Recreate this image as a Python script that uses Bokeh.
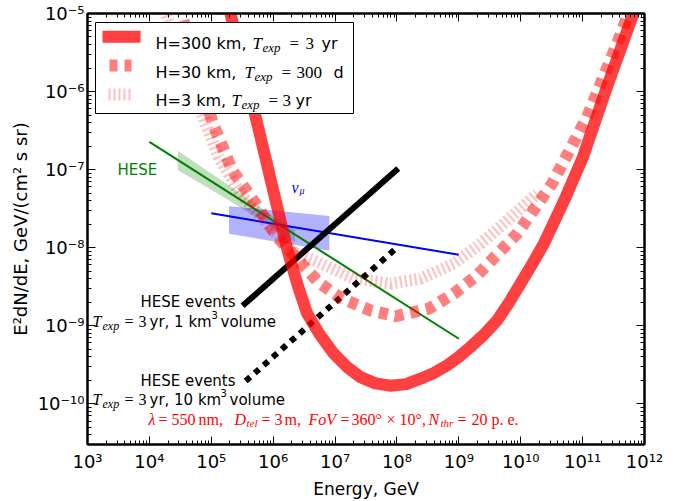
import math
from bokeh.plotting import figure
from bokeh.models import FixedTicker, CustomJSTickFormatter, LogAxis, Label
from bokeh.embed import file_html
from bokeh.resources import INLINE

# ---------------- data ----------------
x_tick_exps = [3, 4, 5, 6, 7, 8, 9, 10, 11, 12]
y_tick_exps = [-10, -9, -8, -7, -6, -5]

# H=300 km, T=3 yr  (thick red)
h300_E = [1.91e5, 2.04e5, 5.89e5, 1.70e6, 2.51e6, 3.54e6, 5.62e6, 9.42e6, 1.57e7, 2.57e7,
          4.47e7, 7.94e7, 1.41e8, 2.40e8, 3.98e8, 6.47e8, 1.00e9, 1.54e9, 2.51e9, 4.16e9,
          6.31e9, 9.89e9, 1.51e10, 2.36e10, 5.01e10, 1.00e11, 2.33e11, 6.62e11, 7.41e11]
h300_F = [1.26e-5, 1.00e-5, 3.16e-7, 9.33e-9, 3.24e-9, 1.43e-9, 7.76e-10, 4.42e-10, 2.94e-10,
          2.19e-10, 1.82e-10, 1.70e-10, 1.78e-10, 2.09e-10, 2.48e-10, 3.10e-10, 3.98e-10,
          5.32e-10, 7.59e-10, 1.17e-9, 1.91e-9, 3.45e-9, 6.03e-9, 1.12e-8, 3.98e-8, 1.41e-7,
          1.00e-6, 1.00e-5, 1.29e-5]
# H=30 km, T=300 d  (dashed)
h30_E = [3.02e4, 3.30e4, 1.04e5, 2.18e5, 5.18e5, 1.16e6, 2.44e6, 5.46e6, 1.30e7, 3.73e7, 9.46e7,
         3.27e8, 8.28e8, 1.98e9, 8.75e9, 3.21e10, 1.18e11, 3.61e11, 6.31e11]
h30_F = [1.29e-5, 1.00e-5, 4.07e-7, 9.80e-8, 3.66e-8, 1.37e-8, 7.23e-9, 3.55e-9, 2.22e-9, 1.57e-9,
         1.32e-9, 1.65e-9, 2.57e-9, 4.42e-9, 1.51e-8, 6.62e-8, 4.72e-7, 4.12e-6, 1.32e-5]
# H=3 km, T=3 yr  (hatched)
h3_E = [1.70e4, 1.82e4, 7.57e4, 1.31e5, 2.96e5, 8.00e5, 2.13e6, 5.40e6, 1.98e7, 7.85e7, 2.40e8,
        8.28e8, 2.23e9, 5.31e9, 1.84e10]
h3_F = [1.26e-5, 1.00e-5, 4.51e-7, 1.45e-7, 4.92e-8, 2.03e-8, 8.79e-9, 6.49e-9, 4.04e-9, 3.45e-9,
        4.01e-9, 6.24e-9, 1.12e-8, 2.03e-8, 4.92e-8]
# HESE fit
hese_E = [1e4, 1e9]
hese_F = [2.26e-7, 6.8e-10]
hese_band_E = [2.88e4, 1.0e5, 3.16e5, 1.0e6, 2.24e6]
hese_band_hi = [1.74e-7, 8.91e-8, 4.79e-8, 2.51e-8, 1.70e-8]
hese_band_lo = [9.77e-8, 5.50e-8, 3.16e-8, 1.78e-8, 1.17e-8]
# nu_mu fit
numu_E = [1e5, 1e9]
numu_F = [2.75e-8, 8.1e-9]
numu_box_E = [1.94e5, 8.1e6]
numu_box_hi = [3.4e-8, 2.54e-8]
numu_box_lo = [1.51e-8, 9.1e-9]
# HESE event-rate lines
km3_1_E = [3.2e5, 1.05e8]
km3_1_F = [1.8e-9, 1.03e-7]
km3_10_E = [3.6e5, 1.0e8]
km3_10_F = [1.95e-10, 1.0e-8]

# ---------------- figure ----------------
W, H = 688, 501
BL, BR, BT, BB = 87, 44, 13, 57
XR = (1e3, 1e12)
YR = (3e-11, 1e-5)

p = figure(width=W, height=H, x_axis_type="log", y_axis_type="log",
           x_range=XR, y_range=YR, output_backend="svg", toolbar_location=None,
           min_border_left=BL, min_border_right=BR, min_border_top=BT, min_border_bottom=BB)
p.grid.visible = False
p.outline_line_color = "black"
p.outline_line_width = 2
p.background_fill_color = "white"
p.border_fill_color = "white"

# page-pixel -> data helpers (for text placement only)
FL, FR, FT, FB = BL, W - BR, BT, H - BB
lx0, lx1 = math.log10(XR[0]), math.log10(XR[1])
ly0, ly1 = math.log10(YR[0]), math.log10(YR[1])


def mx(px):
    return 10 ** (lx0 + (lx1 - lx0) * (px - FL) / (FR - FL))


def my(py):
    return 10 ** (ly1 - (ly1 - ly0) * (py - FT) / (FB - FT))


# ticks
xt = FixedTicker(ticks=[10.0 ** e for e in x_tick_exps],
                 minor_ticks=[m * 10.0 ** e for e in x_tick_exps[:-1] for m in range(2, 10)])
yt = FixedTicker(ticks=[10.0 ** e for e in y_tick_exps],
                 minor_ticks=[m * 10.0 ** e for e in [-11] + y_tick_exps[:-1] for m in range(2, 10)])
sup_code = """
const s = {'-':'\u207b','0':'\u2070','1':'\u00b9','2':'\u00b2','3':'\u00b3','4':'\u2074',
           '5':'\u2075','6':'\u2076','7':'\u2077','8':'\u2078','9':'\u2079'};
const e = Math.round(Math.log10(tick));
return '10' + String(e).split('').map(c => s[c]).join('');
"""
fmt = CustomJSTickFormatter(code=sup_code)
blank = CustomJSTickFormatter(code="return '';")


def style_axis(ax):
    ax.major_tick_in = 8
    ax.major_tick_out = 0
    ax.minor_tick_in = 4
    ax.minor_tick_out = 0
    ax.axis_line_width = 2
    ax.major_tick_line_width = 1
    ax.minor_tick_line_width = 1
    ax.major_label_text_font = "DejaVu Sans"
    ax.major_label_text_font_size = "18px"
    ax.major_label_text_color = "black"


xa = p.xaxis[0]
ya = p.yaxis[0]
xa.ticker = xt
ya.ticker = yt
xa.formatter = fmt
ya.formatter = fmt
style_axis(xa)
style_axis(ya)
xa.major_label_standoff = 6
ya.major_label_standoff = 3
xa.axis_label = "Energy, GeV"
ya.axis_label = "E\u00b2dN/dE, GeV/(cm\u00b2 s sr)"
for ax in (xa, ya):
    ax.axis_label_text_font = "DejaVu Sans"
    ax.axis_label_text_font_size = "17px"
    ax.axis_label_text_font_style = "normal"
    ax.axis_label_text_color = "black"
xa.axis_label_standoff = 4
ya.axis_label_standoff = 4
ya.axis_label_text_font_size = "18px"

top = LogAxis(ticker=xt, formatter=blank)
right = LogAxis(ticker=yt, formatter=blank)
for ax in (top, right):
    style_axis(ax)
    ax.major_label_text_font_size = "0px"
    ax.major_label_standoff = 0
p.add_layout(top, "above")
p.add_layout(right, "right")

# ---------------- glyphs ----------------
p.varea(x=hese_band_E, y1=hese_band_lo, y2=hese_band_hi, fill_color="green", fill_alpha=0.25)
p.varea(x=numu_box_E, y1=numu_box_lo, y2=numu_box_hi, fill_color="blue", fill_alpha=0.3)
p.line(hese_E, hese_F, line_color="green", line_width=2)
p.line(numu_E, numu_F, line_color="blue", line_width=2)
p.line(km3_1_E, km3_1_F, line_color="black", line_width=6)
p.line(km3_10_E, km3_10_F, line_color="black", line_width=6, line_dash="6 6")

RED = "red"
p.line(h300_E, h300_F, line_color=RED, line_alpha=0.75, line_width=12, line_join="round")
p.line(h30_E, h30_F, line_color=RED, line_alpha=0.5, line_width=12, line_dash="9 7",
       line_join="round")
p.line(h3_E, h3_F, line_color=RED, line_alpha=0.25, line_width=12, line_dash="2 3",
       line_join="round")

# ---------------- legend (drawn by hand) ----------------
p.quad(left=[mx(95)], right=[mx(353)], top=[my(22)], bottom=[my(113)],
       fill_color="white", line_color="black", line_width=1)
p.line([mx(102), mx(140)], [my(36.3)] * 2, line_color=RED, line_alpha=0.75, line_width=12)
p.line([mx(109), mx(131)], [my(65)] * 2, line_color=RED, line_alpha=0.5, line_width=12,
       line_dash="8 7")
p.line([mx(108), mx(131)], [my(94)] * 2, line_color=RED, line_alpha=0.25, line_width=12,
       line_dash="2 3")


def txt(px, py, s, size, font="DejaVu Sans", style="normal", color="black", angle=0.0):
    p.add_layout(Label(x=mx(px), y=my(py), text=s, text_font=font, text_font_style=style,
                       text_font_size=f"{size}px", text_color=color, text_align="left",
                       text_baseline="alphabetic", angle=angle))


SERIF = "Liberation Serif"
# legend rows: (sans label, x of T, number, x of "=", x of number, unit, x of unit, baseline)
legend_rows = [("H=300 km,", 252, "3", 289, 305, "yr", 321, 42.7),
               ("H=30 km,", 244, "300", 281, 296, "d", 333, 71.7),
               ("H=3 km,", 231, "3", 268, 282, "yr", 295, 100.0)]
for lab, xT, num, xeq, xnum, unit, xunit, base in legend_rows:
    txt(155, base, lab, 16)
    txt(xT, base, "T", 17, SERIF, "italic")
    txt(xT + 10, base + 4, "exp", 13, SERIF, "italic")
    txt(xeq, base, "=", 17, SERIF)
    txt(xnum, base, num, 17, SERIF)
    txt(xunit, base, unit, 16)

# HESE events annotations
for base1, base2, vol, xsup, xvol in [(301.7, 321, "yr, 1 km", 211, 220),
                                      (380, 399, "yr, 10 km", 220, 229)]:
    txt(140, base1, "HESE events", 15)
    txt(92, base2, "T", 16, SERIF, "italic")
    txt(102, base2 + 4, "exp", 12, SERIF, "italic")
    txt(124, base2, "=", 16, SERIF)
    txt(138, base2, "3", 16, SERIF)
    txt(149, base2, vol, 15)
    txt(xsup, base2 - 7, "3", 10)
    txt(xvol, base2, "volume", 15)

txt(117, 169, "HESE", 15, color="green")
txt(291, 187, "\u03bd", 16, SERIF, "italic", color="blue")
txt(299, 190, "\u03bc", 10, SERIF, "italic", color="blue")

# red parameter line
RC = "red"
rb = 419
red_parts = [(148, 0, "\u03bb", 16, "italic"), (158, 0, "=", 16, "normal"),
             (171, 0, "550", 16, "normal"), (198, 0, "nm,", 16, "normal"),
             (234, 0, "D", 16, "italic"), (246, 3, "tel", 11, "italic"),
             (261, 0, "=", 16, "normal"), (274, 0, "3", 16, "normal"),
             (284, 0, "m,", 16, "normal"), (308, 0, "FoV", 16, "italic"),
             (340, 0, "=", 16, "normal"), (351, 0, "360\u00b0", 16, "normal"),
             (386, 0, "\u00d7", 16, "normal"), (399, 0, "10\u00b0,", 16, "normal"),
             (428, 0, "N", 16, "italic"), (440, 3, "thr", 11, "italic"),
             (457, 0, "=", 16, "normal"), (471, 0, "20", 16, "normal"),
             (491, 0, "p. e.", 16, "normal")]
for xr, dy, s, sz, st in red_parts:
    txt(xr, rb + dy, s, sz, SERIF, st, RC)

open("out.html", "w").write(file_html(p, INLINE))
